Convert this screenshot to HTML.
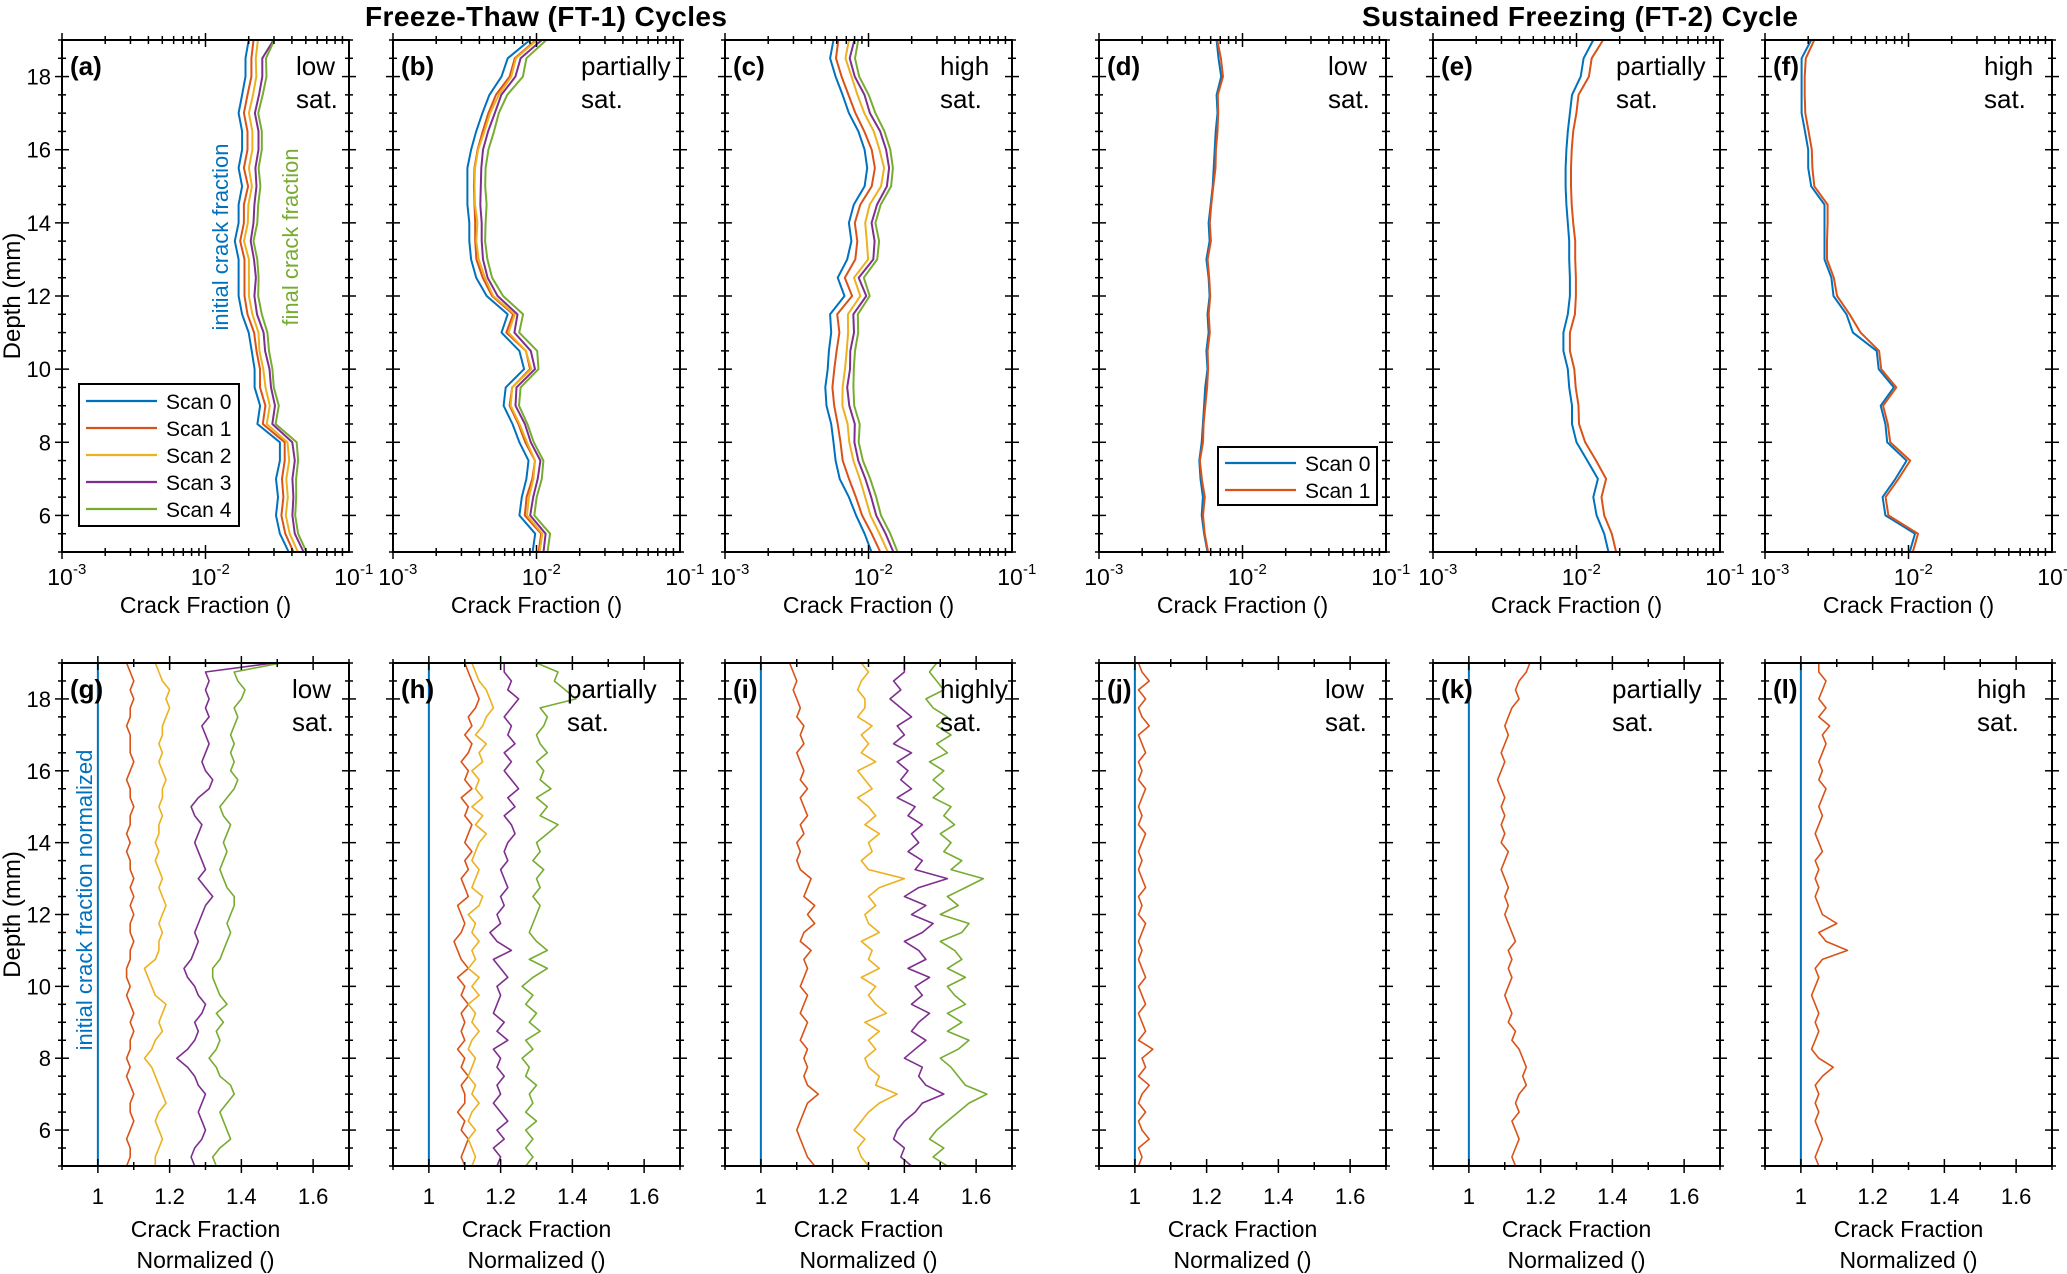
<!DOCTYPE html>
<html>
<head>
<meta charset="utf-8">
<style>
html,body{margin:0;padding:0;background:#fff;}
svg{display:block;}
text{font-family:"Liberation Sans",Arial,sans-serif;}
</style>
</head>
<body>
<svg id="fig" width="2067" height="1274" viewBox="0 0 2067 1274" xmlns="http://www.w3.org/2000/svg" fill="#000">
  <text x="546" y="26" font-size="28" font-weight="bold" text-anchor="middle" textLength="362">Freeze-Thaw (FT-1) Cycles</text>
  <text x="1580" y="26" font-size="28" font-weight="bold" text-anchor="middle" textLength="436">Sustained Freezing (FT-2) Cycle</text>
</svg>
<script>
// ---------- data ----------
const depthMin = 5, depthMax = 19;
const depthStepNorm = 0.25;
const depthStepTop = 0.5;
const yTicks = [6, 8, 10, 12, 14, 16, 18];
const topXTickExps = [-3, -2, -1];
const bottomXTicks = [1, 1.2, 1.4, 1.6];
const bottomXTickLabels = ["1", "1.2", "1.4", "1.6"];

// Scan 0 crack fraction (top row), depth 5..19 step 0.5
const scan0A = [0.038,0.033,0.031,0.032,0.031,0.033,0.033,0.023,0.024,0.022,0.022,0.021,0.020,0.018,0.017,0.017,0.017,0.016,0.017,0.017,0.018,0.017,0.018,0.018,0.017,0.018,0.019,0.019,0.020];
const scan0B = [0.0094,0.0098,0.0076,0.0079,0.0085,0.0088,0.0076,0.0068,0.0059,0.0061,0.0082,0.0076,0.0057,0.0063,0.0045,0.0038,0.0035,0.0034,0.0034,0.0033,0.0033,0.0033,0.0035,0.0038,0.0042,0.0047,0.0057,0.0063,0.0090];
const scan0C = [0.0105,0.0094,0.0082,0.0073,0.0063,0.0059,0.0057,0.0055,0.0051,0.0050,0.0052,0.0053,0.0055,0.0054,0.0068,0.0061,0.0071,0.0076,0.0073,0.0079,0.0094,0.0098,0.0094,0.0085,0.0073,0.0066,0.0059,0.0054,0.0057];
const scan0D = [0.0057,0.0054,0.0052,0.0053,0.0051,0.0050,0.0052,0.0053,0.0054,0.0055,0.0057,0.0056,0.0058,0.0057,0.0059,0.0058,0.0056,0.0059,0.0058,0.0060,0.0062,0.0063,0.0064,0.0065,0.0067,0.0066,0.0071,0.0068,0.0066];
const scan0E = [0.0167,0.0156,0.0138,0.0131,0.0141,0.0119,0.0100,0.0093,0.0093,0.0089,0.0087,0.0081,0.0081,0.0087,0.0090,0.0090,0.0089,0.0089,0.0087,0.0085,0.0084,0.0084,0.0085,0.0087,0.0090,0.0093,0.0107,0.0112,0.0131];
const scan0F = [0.0102,0.0111,0.0069,0.0066,0.0081,0.0097,0.0071,0.0069,0.0064,0.0079,0.0062,0.0060,0.0041,0.0037,0.0030,0.0029,0.0026,0.0026,0.0026,0.0026,0.0021,0.0020,0.0020,0.0019,0.0018,0.0018,0.0018,0.0018,0.0021];

// Normalized crack fraction (scan N / scan 0), depth 5..19 step 0.25
const normG1 = [1.08,1.09,1.09,1.08, 1.09,1.10,1.09,1.09, 1.10,1.09,1.08,1.09, 1.08,1.09,1.09,1.10, 1.09,1.10,1.09,1.08, 1.09,1.08,1.08,1.09, 1.09,1.10,1.09,1.09, 1.10,1.09,1.10,1.09, 1.10,1.09,1.09,1.08, 1.09,1.08,1.09,1.09, 1.10,1.09,1.09,1.08, 1.09,1.10,1.09,1.09, 1.09,1.08,1.09,1.09, 1.10,1.09,1.10,1.09, 1.08];
const normG2 = [1.16,1.16,1.17,1.18, 1.17,1.16,1.17,1.19, 1.18,1.17,1.16,1.15, 1.13,1.15,1.16,1.18, 1.17,1.18,1.19,1.16, 1.15,1.14,1.13,1.16, 1.17,1.17,1.18,1.17, 1.18,1.19,1.18,1.17, 1.18,1.17,1.16,1.17, 1.16,1.17,1.17,1.18, 1.17,1.18,1.18,1.19, 1.18,1.17,1.18,1.17, 1.18,1.18,1.19,1.20, 1.19,1.20,1.18,1.17, 1.16];
const normG3 = [1.27,1.26,1.27,1.29, 1.30,1.29,1.28,1.29, 1.30,1.28,1.27,1.25, 1.22,1.25,1.27,1.28, 1.27,1.29,1.30,1.28, 1.27,1.25,1.24,1.26, 1.27,1.28,1.27,1.28, 1.29,1.30,1.32,1.30, 1.28,1.30,1.29,1.28, 1.27,1.28,1.29,1.27, 1.26,1.28,1.31,1.32, 1.30,1.29,1.30,1.31, 1.30,1.29,1.31,1.30, 1.31,1.30,1.31,1.30, 1.49];
const normG4 = [1.33,1.32,1.34,1.37, 1.36,1.35,1.34,1.36, 1.38,1.37,1.34,1.33, 1.31,1.33,1.34,1.33, 1.35,1.33,1.36,1.34, 1.33,1.32,1.32,1.34, 1.35,1.36,1.37,1.36, 1.37,1.38,1.38,1.36, 1.35,1.34,1.35,1.36, 1.35,1.36,1.37,1.35, 1.34,1.36,1.38,1.39, 1.37,1.38,1.37,1.38, 1.37,1.38,1.39,1.38, 1.40,1.41,1.39,1.38, 1.51];
const normH1 = [1.10,1.09,1.10,1.11, 1.09,1.10,1.08,1.10, 1.10,1.09,1.11,1.09, 1.10,1.08,1.10,1.09, 1.10,1.09,1.11,1.09, 1.10,1.08,1.11,1.09, 1.08,1.07,1.09,1.10, 1.09,1.08,1.11,1.10, 1.09,1.11,1.10,1.12, 1.10,1.11,1.12,1.10, 1.11,1.09,1.12,1.10, 1.11,1.09,1.11,1.12, 1.10,1.12,1.11,1.13, 1.14,1.13,1.12,1.11, 1.10];
const normH2 = [1.12,1.13,1.12,1.11, 1.13,1.11,1.12,1.14, 1.12,1.13,1.11,1.12, 1.13,1.11,1.12,1.14, 1.12,1.13,1.11,1.14, 1.12,1.14,1.11,1.13, 1.12,1.14,1.12,1.13, 1.11,1.14,1.15,1.12, 1.13,1.14,1.12,1.13, 1.14,1.16,1.13,1.15, 1.12,1.15,1.13,1.14, 1.12,1.15,1.14,1.16, 1.13,1.15,1.16,1.18, 1.17,1.16,1.14,1.13, 1.12];
const normH3 = [1.19,1.20,1.18,1.21, 1.19,1.22,1.20,1.18, 1.20,1.19,1.21,1.19, 1.20,1.18,1.22,1.19, 1.21,1.18,1.19,1.20, 1.19,1.22,1.20,1.18, 1.23,1.19,1.17,1.20, 1.19,1.21,1.20,1.22, 1.21,1.20,1.22,1.21, 1.22,1.24,1.23,1.21, 1.24,1.22,1.25,1.23, 1.21,1.23,1.21,1.24, 1.22,1.23,1.21,1.23, 1.25,1.22,1.23,1.21, 1.21];
const normH4 = [1.27,1.29,1.27,1.29, 1.27,1.30,1.27,1.29, 1.28,1.30,1.27,1.28, 1.26,1.29,1.27,1.31, 1.28,1.30,1.27,1.29, 1.26,1.29,1.33,1.28, 1.33,1.30,1.28,1.29, 1.30,1.31,1.29,1.31, 1.30,1.32,1.29,1.31, 1.30,1.33,1.36,1.31, 1.33,1.30,1.34,1.31, 1.32,1.30,1.33,1.31, 1.30,1.32,1.33,1.31, 1.41,1.38,1.35,1.36, 1.30];
const normI1 = [1.15,1.13,1.12,1.11, 1.10,1.11,1.12,1.13, 1.16,1.13,1.12,1.13, 1.12,1.13,1.11,1.12, 1.13,1.11,1.12,1.13, 1.11,1.12,1.13,1.12, 1.14,1.11,1.12,1.15, 1.13,1.15,1.12,1.13, 1.14,1.11,1.10,1.11, 1.10,1.12,1.11,1.13, 1.12,1.11,1.13,1.11, 1.12,1.11,1.10,1.12, 1.11,1.12,1.10,1.11, 1.10,1.09,1.10,1.09, 1.08];
const normI2 = [1.30,1.28,1.27,1.29, 1.26,1.28,1.30,1.33, 1.38,1.32,1.33,1.30, 1.29,1.32,1.30,1.33, 1.29,1.35,1.32,1.30, 1.32,1.28,1.33,1.30, 1.31,1.28,1.33,1.30, 1.29,1.32,1.30,1.33, 1.40,1.30,1.28,1.31, 1.30,1.33,1.29,1.32, 1.30,1.27,1.31,1.29, 1.27,1.32,1.28,1.30, 1.28,1.31,1.27,1.29, 1.29,1.27,1.28,1.30, 1.28];
const normI3 = [1.42,1.39,1.40,1.37, 1.38,1.40,1.43,1.45, 1.51,1.46,1.44,1.45, 1.40,1.43,1.46,1.42, 1.44,1.47,1.42,1.45, 1.43,1.47,1.41,1.46, 1.44,1.40,1.45,1.48, 1.42,1.46,1.40,1.44, 1.52,1.43,1.45,1.41, 1.44,1.42,1.45,1.41, 1.43,1.38,1.42,1.39, 1.41,1.38,1.42,1.37, 1.40,1.38,1.42,1.39, 1.36,1.39,1.37,1.40, 1.40];
const normI4 = [1.52,1.48,1.51,1.47, 1.49,1.52,1.55,1.58, 1.63,1.57,1.55,1.53, 1.50,1.55,1.58,1.52, 1.56,1.52,1.57,1.54, 1.52,1.57,1.52,1.56, 1.54,1.50,1.56,1.58, 1.50,1.55,1.52,1.57, 1.62,1.53,1.56,1.51, 1.53,1.50,1.54,1.51, 1.53,1.48,1.51,1.48, 1.51,1.47,1.52,1.49, 1.53,1.49,1.52,1.48, 1.46,1.51,1.49,1.47, 1.49];
const normJ1 = [1.01,1.02,1.01,1.04, 1.02,1.01,1.03,1.01, 1.02,1.04,1.01,1.03, 1.02,1.05,1.01,1.03, 1.02,1.01,1.03,1.02, 1.01,1.03,1.02,1.01, 1.02,1.01,1.02,1.03, 1.01,1.02,1.01,1.03, 1.02,1.01,1.02,1.01, 1.02,1.03,1.01,1.02, 1.01,1.02,1.03,1.01, 1.02,1.01,1.03,1.02, 1.01,1.04,1.02,1.01, 1.03,1.01,1.04,1.02, 1.01];
const normK1 = [1.13,1.12,1.13,1.14, 1.13,1.12,1.14,1.13, 1.14,1.16,1.15,1.16, 1.15,1.14,1.12,1.13, 1.11,1.12,1.11,1.10, 1.11,1.12,1.11,1.12, 1.11,1.13,1.12,1.11, 1.10,1.11,1.10,1.11, 1.10,1.09,1.10,1.11, 1.09,1.10,1.09,1.10, 1.09,1.10,1.09,1.08, 1.09,1.10,1.09,1.10, 1.11,1.10,1.11,1.12, 1.14,1.13,1.14,1.16, 1.17];
const normL1 = [1.05,1.04,1.05,1.06, 1.05,1.04,1.05,1.04, 1.05,1.04,1.06,1.09, 1.05,1.03,1.04,1.05, 1.04,1.05,1.04,1.03, 1.04,1.05,1.04,1.06, 1.13,1.07,1.05,1.10, 1.06,1.05,1.04,1.05, 1.04,1.05,1.04,1.06, 1.05,1.04,1.05,1.06, 1.05,1.06,1.07,1.05, 1.06,1.05,1.06,1.07, 1.06,1.08,1.05,1.07, 1.05,1.06,1.07,1.05, 1.05];

const seriesColors = ["#0072BD", "#D95319", "#EDB120", "#7E2F8E", "#77AC30"];

// ---------- layout ----------
const NS = "http://www.w3.org/2000/svg";
const svg = document.getElementById("fig");
const colX = [62, 393, 725, 1099, 1433, 1765];
const panelW = 287;
const topRow = {y0: 40, y1: 552};
const botRow = {y0: 663, y1: 1166};

function mk(tag, attrs, parent) {
  const e = document.createElementNS(NS, tag);
  for (const k in attrs) e.setAttribute(k, attrs[k]);
  (parent || svg).appendChild(e);
  return e;
}
function yScale(row) { return d => row.y1 - (d - depthMin) / (depthMax - depthMin) * (row.y1 - row.y0); }
function logX(x0) { return v => x0 + (Math.log10(v) + 3) / 2 * panelW; }
function linX(x0) { return v => x0 + (v - 0.9) / 0.8 * panelW; }

function drawAxes(g, x0, row, isLog, showY) {
  const ys = yScale(row);
  const x1 = x0 + panelW;
  for (let d = 5; d <= 19.001; d += 0.5) {
    const y = ys(d);
    const major = Math.abs(d % 2) < 1e-6;
    const L = major ? 7 : 4;
    mk("line", {x1: x0 - L, x2: x0 + L, y1: y, y2: y, stroke: "#000", "stroke-width": 1.5}, g);
    mk("line", {x1: x1 - L, x2: x1 + L, y1: y, y2: y, stroke: "#000", "stroke-width": 1.5}, g);
  }
  if (showY) {
    yTicks.forEach(t => {
      const tl = mk("text", {x: x0 - 11, y: ys(t) + 8, "font-size": 22, "text-anchor": "end"}, g);
      
      
      tl.textContent = t;
    });
  }
  if (isLog) {
    const xs = logX(x0);
    for (let e = -3; e < -1; e++) {
      for (let m = 1; m <= 9; m++) {
        const v = m * Math.pow(10, e);
        const x = xs(v);
        const L = m === 1 ? 7 : 4;
        mk("line", {x1: x, x2: x, y1: row.y1 - L, y2: row.y1 + L, stroke: "#000", "stroke-width": 1.5}, g);
        mk("line", {x1: x, x2: x, y1: row.y0 - L, y2: row.y0 + L, stroke: "#000", "stroke-width": 1.5}, g);
      }
    }
    topXTickExps.forEach(e => {
      const x = xs(Math.pow(10, e));
      const t = mk("text", {x: x - 2, y: row.y1 + 33, "font-size": 23, "text-anchor": "middle"}, g);
      
      
      t.textContent = "10";
      const s = mk("text", {x: x + 11, y: row.y1 + 22, "font-size": 15, "text-anchor": "start"}, g);
      
      
      s.textContent = String(e);
    });
    const lab = mk("text", {x: x0 + panelW / 2, y: row.y1 + 61, "font-size": 23, "text-anchor": "middle"}, g);
    
    
    lab.textContent = "Crack Fraction ()";
  } else {
    const xs = linX(x0);
    for (let i = 0; i <= 8; i++) {
      const v = 0.9 + i * 0.1;
      const x = xs(v);
      const major = (i % 2) === 1;
      const L = major ? 7 : 4;
      mk("line", {x1: x, x2: x, y1: row.y1 - L, y2: row.y1 + L, stroke: "#000", "stroke-width": 1.5}, g);
      mk("line", {x1: x, x2: x, y1: row.y0 - L, y2: row.y0 + L, stroke: "#000", "stroke-width": 1.5}, g);
    }
    bottomXTicks.forEach((v, i) => {
      const t = mk("text", {x: xs(v), y: row.y1 + 38, "font-size": 22, "text-anchor": "middle"}, g);
      
      
      t.textContent = bottomXTickLabels[i];
    });
    const l1 = mk("text", {x: x0 + panelW / 2, y: row.y1 + 71, "font-size": 23, "text-anchor": "middle"}, g);
    
    
    l1.textContent = "Crack Fraction";
    const l2 = mk("text", {x: x0 + panelW / 2, y: row.y1 + 102, "font-size": 23, "text-anchor": "middle"}, g);
    
    
    l2.textContent = "Normalized ()";
  }
  const box = mk("rect", {x: x0, y: row.y0, width: panelW, height: row.y1 - row.y0, fill: "none", stroke: "#000", "stroke-width": 2}, g);
  
  
}

function polyline(g, pts, color, w) {
  return mk("polyline", {points: pts.map(q => q[0].toFixed(1) + "," + q[1].toFixed(1)).join(" "), fill: "none", stroke: color, "stroke-width": w, "stroke-linejoin": "round"}, g);
}

function panelText(g, x0, row, letter, l1) {
  const t = mk("text", {x: x0 + 8, y: row.y0 + 35, "font-size": 26, "font-weight": "bold"}, g);
  
  
  t.textContent = "(" + letter + ")";
  const a = mk("text", {x: l1.x, y: row.y0 + 35, "font-size": 26}, g);
  
  
  a.textContent = l1.t1;
  const b = mk("text", {x: l1.x, y: row.y0 + 68, "font-size": 26}, g);
  
  
  b.textContent = l1.t2;
}

// ---------- top row ----------
const topPanels = [
  {letter: "a", scan0: scan0A, norms: [normG1, normG2, normG3, normG4], lab: {x: 296, t1: "low", t2: "sat."}},
  {letter: "b", scan0: scan0B, norms: [normH1, normH2, normH3, normH4], lab: {x: 581, t1: "partially", t2: "sat."}},
  {letter: "c", scan0: scan0C, norms: [normI1, normI2, normI3, normI4], lab: {x: 940, t1: "high", t2: "sat."}},
  {letter: "d", scan0: scan0D, norms: [normJ1], lab: {x: 1328, t1: "low", t2: "sat."}},
  {letter: "e", scan0: scan0E, norms: [normK1], lab: {x: 1616, t1: "partially", t2: "sat."}},
  {letter: "f", scan0: scan0F, norms: [normL1], lab: {x: 1984, t1: "high", t2: "sat."}}
];
topPanels.forEach((P, pi) => {
  const x0 = colX[pi];
  const g = mk("g", {});
  
  
  const ys = yScale(topRow), xs = logX(x0);
  const all = [P.scan0].concat(P.norms.map(n => P.scan0.map((v, i) => v * n[2 * i])));
  all.forEach((arr, si) => {
    const pts = arr.map((v, i) => [xs(v), ys(depthMin + i * depthStepTop)]);
    const pl = polyline(g, pts, seriesColors[si], 2);
    
    
  });
  drawAxes(g, x0, topRow, true, pi === 0);
  panelText(g, x0, topRow, P.letter, P.lab);
});

// ---------- bottom row ----------
const botPanels = [
  {letter: "g", norms: [normG1, normG2, normG3, normG4], lab: {x: 292, t1: "low", t2: "sat."}},
  {letter: "h", norms: [normH1, normH2, normH3, normH4], lab: {x: 567, t1: "partially", t2: "sat."}},
  {letter: "i", norms: [normI1, normI2, normI3, normI4], lab: {x: 940, t1: "highly", t2: "sat."}},
  {letter: "j", norms: [normJ1], lab: {x: 1325, t1: "low", t2: "sat."}},
  {letter: "k", norms: [normK1], lab: {x: 1612, t1: "partially", t2: "sat."}},
  {letter: "l", norms: [normL1], lab: {x: 1977, t1: "high", t2: "sat."}}
];
botPanels.forEach((P, pi) => {
  const x0 = colX[pi];
  const g = mk("g", {});
  
  
  const ys = yScale(botRow), xs = linX(x0);
  const base = mk("line", {x1: xs(1), x2: xs(1), y1: botRow.y0, y2: botRow.y1, stroke: seriesColors[0], "stroke-width": 2}, g);
  
  
  P.norms.forEach((arr, k) => {
    const pts = arr.map((v, i) => [xs(v), ys(depthMin + i * depthStepNorm)]);
    const pl = polyline(g, pts, seriesColors[k + 1], 1.6);
    
    
  });
  drawAxes(g, x0, botRow, false, pi === 0);
  panelText(g, x0, botRow, P.letter, P.lab);
});

// ---------- y-axis titles ----------
[topRow, botRow].forEach((row) => {
  const cy = (row.y0 + row.y1) / 2;
  const t = mk("text", {x: 0, y: 0, "font-size": 24, "text-anchor": "middle", transform: "translate(20," + cy + ") rotate(-90)"});
  
  
  t.textContent = "Depth (mm)";
});

// ---------- annotations ----------
const ann1 = mk("text", {x: 0, y: 0, "font-size": 22, "text-anchor": "middle", style: "fill:#0072BD", transform: "translate(228,237) rotate(-90)"});


ann1.textContent = "initial crack fraction";
const ann2 = mk("text", {x: 0, y: 0, "font-size": 22, "text-anchor": "middle", style: "fill:#77AC30", transform: "translate(298,237) rotate(-90)"});


ann2.textContent = "final crack fraction";
const ann3 = mk("text", {x: 0, y: 0, "font-size": 22, "text-anchor": "middle", style: "fill:#0072BD", transform: "translate(92,900) rotate(-90)"});


ann3.textContent = "initial crack fraction normalized";

// ---------- legends ----------
function legend(x, y, w, h, n, rowH, firstY) {
  const g = mk("g", {});
  
  
  mk("rect", {x: x, y: y, width: w, height: h, fill: "#fff", stroke: "#000", "stroke-width": 2}, g);
  for (let i = 0; i < n; i++) {
    const yy = firstY + i * rowH;
    const ln = mk("line", {x1: x + 7, x2: x + 78, y1: yy, y2: yy, stroke: seriesColors[i], "stroke-width": 2.2}, g);
    
    
    const t = mk("text", {x: x + 87, y: yy + 8, "font-size": 21}, g);
    
    
    t.textContent = "Scan " + i;
  }
}
legend(79, 384, 160, 142, 5, 27, 401);
legend(1218, 447, 159, 58, 2, 27, 463);
</script>
</body>
</html>
